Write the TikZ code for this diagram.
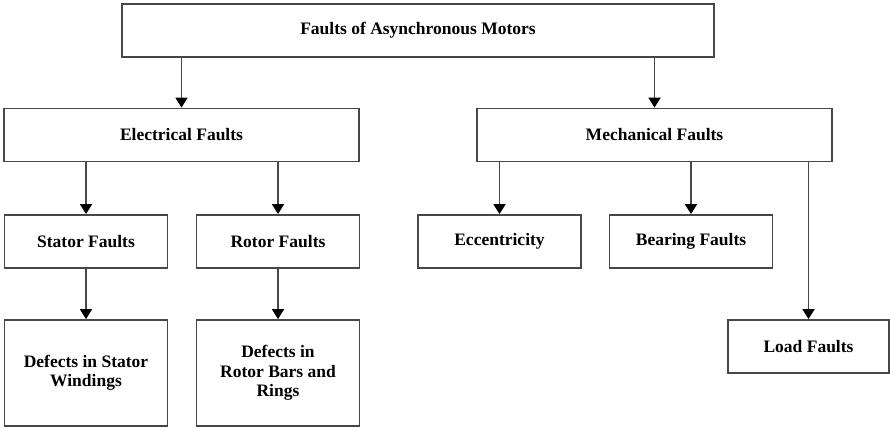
\documentclass[tikz,border=0pt]{standalone}
\usepackage{fontspec}
\setmainfont{Liberation Serif}
\usetikzlibrary{arrows.meta}

\begin{document}
\begin{tikzpicture}[x=1pt,y=-1pt,
    fault/.style={rectangle,draw=black!72,line width=1.8pt,minimum height=53pt,
      inner sep=2pt,align=center,font=\fontsize{17.5}{19.5}\selectfont\bfseries},
    wide/.style={fault,minimum width=355pt},
    narrow/.style={fault,minimum width=163pt},
    link/.style={draw=black!72,line width=1.8pt,-{Triangle[width=12pt,length=10pt,color=black]}}]
  \useasboundingbox (0,0) rectangle (890,428);

  \node[fault,minimum width=592pt] (motors) at (418,30.5) {Faults of Asynchronous Motors};

  \node[wide] (electrical) at (181.5,135) {Electrical Faults};
  \node[wide] (mechanical) at (654.5,135) {Mechanical Faults};

  \node[narrow] (stator) at (86,241.5) {Stator Faults};
  \node[narrow] (rotor) at (278,241.5) {Rotor Faults};
  \node[narrow] (eccentric) at (499.5,241.5) {Eccentricity};
  \node[narrow] (bearing) at (691,241.5) {Bearing Faults};

  \node[narrow,minimum height=106pt] (statordef) at (86,373) {Defects in Stator\\Windings};
  \node[narrow,minimum height=106pt] (rotordef) at (278,373) {Defects in\\Rotor Bars and\\Rings};
  \node[narrow,minimum width=161pt] (load) at (808.5,346.5) {Load Faults};

  \draw[link] (motors.south -| electrical) -- (electrical);
  \draw[link] (motors.south -| mechanical) -- (mechanical);
  \draw[link] (electrical.south -| stator) -- (stator);
  \draw[link] (electrical.south -| rotor) -- (rotor);
  \draw[link] (mechanical.south -| eccentric) -- (eccentric);
  \draw[link] (mechanical.south -| bearing) -- (bearing);
  \draw[link] (mechanical.south -| load) -- (load);
  \draw[link] (stator) -- (statordef);
  \draw[link] (rotor) -- (rotordef);
\end{tikzpicture}
\end{document}
